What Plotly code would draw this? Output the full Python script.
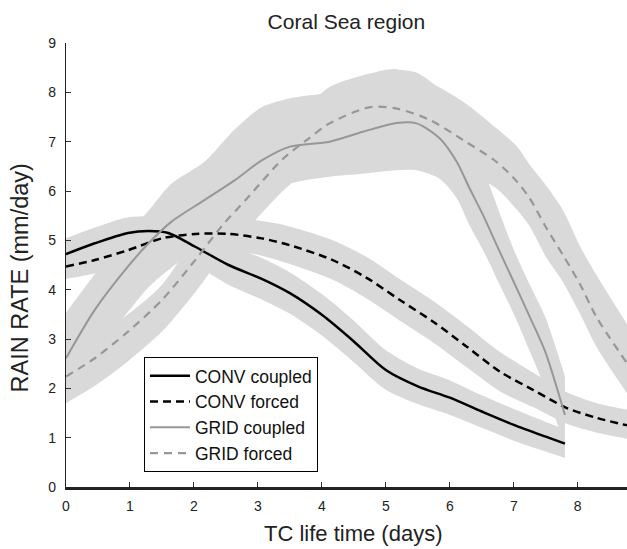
import plotly.graph_objects as go

# ---------------- data ----------------
days_ticks = [0, 1, 2, 3, 4, 5, 6, 7, 8]
rate_ticks = [0, 1, 2, 3, 4, 5, 6, 7, 8, 9]

conv_coupled_x = [0.00, 0.45, 0.97, 1.29, 1.60, 2.02, 2.54, 3.06, 3.50, 4.00, 4.50, 5.00, 5.50, 6.00, 6.50, 7.00, 7.50, 7.80]
conv_coupled_y = [4.72, 4.94, 5.15, 5.19, 5.15, 4.87, 4.50, 4.22, 3.93, 3.49, 2.95, 2.37, 2.04, 1.81, 1.53, 1.26, 1.02, 0.88]
conv_coupled_hi = [5.04, 5.26, 5.47, 5.49, 5.47, 5.23, 4.90, 4.64, 4.35, 3.91, 3.37, 2.77, 2.40, 2.16, 1.86, 1.58, 1.32, 1.17]
conv_coupled_lo = [4.40, 4.62, 4.83, 4.89, 4.83, 4.51, 4.10, 3.80, 3.51, 3.07, 2.53, 1.97, 1.68, 1.46, 1.20, 0.94, 0.72, 0.59]

conv_forced_x = [0.00, 0.45, 0.97, 1.50, 2.02, 2.54, 3.06, 3.50, 4.17, 4.70, 5.22, 5.74, 6.26, 6.78, 7.30, 7.83, 8.30, 8.77]
conv_forced_y = [4.47, 4.60, 4.80, 5.04, 5.13, 5.13, 5.04, 4.90, 4.60, 4.24, 3.79, 3.35, 2.85, 2.34, 1.97, 1.60, 1.40, 1.25]
conv_forced_hi = [4.72, 4.87, 5.10, 5.34, 5.45, 5.46, 5.39, 5.28, 5.00, 4.66, 4.21, 3.77, 3.27, 2.74, 2.32, 1.92, 1.70, 1.57]
conv_forced_lo = [4.22, 4.33, 4.50, 4.74, 4.81, 4.80, 4.69, 4.52, 4.20, 3.82, 3.37, 2.93, 2.43, 1.94, 1.62, 1.28, 1.10, 0.98]

grid_coupled_x = [0.00, 0.45, 0.97, 1.29, 1.65, 2.17, 2.64, 3.06, 3.50, 4.12, 4.64, 5.17, 5.48, 5.84, 6.11, 6.31, 6.52, 6.78, 7.02, 7.25, 7.49, 7.80]
grid_coupled_y = [2.61, 3.59, 4.47, 4.94, 5.38, 5.82, 6.22, 6.62, 6.90, 7.00, 7.20, 7.38, 7.37, 7.07, 6.59, 6.05, 5.51, 4.77, 4.10, 3.45, 2.75, 1.46]
grid_coupled_hi = [3.53, 4.31, 5.15, 5.60, 6.15, 6.60, 7.25, 7.70, 7.88, 8.00, 8.25, 8.45, 8.40, 8.05, 7.55, 7.00, 6.45, 5.55, 4.75, 4.10, 3.45, 2.24]
grid_coupled_lo = [1.71, 2.69, 3.55, 4.05, 4.45, 4.92, 5.37, 5.89, 6.15, 6.29, 6.35, 6.42, 6.42, 6.25, 5.85, 5.30, 4.80, 4.10, 3.45, 2.75, 2.00, 0.80]

grid_forced_x = [0.00, 0.45, 0.97, 1.50, 2.02, 2.43, 2.85, 3.39, 3.76, 4.12, 4.75, 5.17, 5.69, 6.21, 6.73, 7.05, 7.25, 7.51, 7.77, 8.04, 8.29, 8.77]
grid_forced_y = [2.24, 2.61, 3.15, 3.79, 4.60, 5.28, 5.88, 6.65, 7.03, 7.37, 7.70, 7.67, 7.44, 7.03, 6.59, 6.19, 5.85, 5.25, 4.70, 4.10, 3.45, 2.51]
grid_forced_hi = [2.70, 3.03, 3.50, 4.10, 5.10, 5.90, 6.60, 7.30, 7.70, 8.11, 8.38, 8.47, 8.20, 7.81, 7.27, 6.90, 6.53, 6.10, 5.61, 4.87, 4.30, 3.30]
grid_forced_lo = [1.70, 2.05, 2.55, 3.15, 3.95, 4.65, 5.25, 6.00, 6.40, 6.75, 7.05, 7.05, 6.85, 6.45, 6.05, 5.62, 5.28, 4.65, 4.15, 3.50, 2.85, 1.90]

series_names = ["CONV coupled", "CONV forced", "GRID coupled", "GRID forced"]

# ---------------- styling ----------------
BAND = "#d9d9d9"
BLACK = "#000000"
GRAY = "#979797"
FONT = "Liberation Sans, Arial, Helvetica, sans-serif"

fig = go.Figure()

bands = [
    (conv_coupled_x, conv_coupled_lo, conv_coupled_hi),
    (conv_forced_x, conv_forced_lo, conv_forced_hi),
    (grid_coupled_x, grid_coupled_lo, grid_coupled_hi),
    (grid_forced_x, grid_forced_lo, grid_forced_hi),
]
for bx, lo, hi in bands:
    fig.add_trace(go.Scatter(x=bx, y=lo, mode="lines", line=dict(width=0, shape="spline", smoothing=0.8),
                             showlegend=False, hoverinfo="skip"))
    fig.add_trace(go.Scatter(x=bx, y=hi, mode="lines", line=dict(width=0, shape="spline", smoothing=0.8),
                             fill="tonexty", fillcolor=BAND, showlegend=False, hoverinfo="skip"))

lines = [
    (conv_coupled_x, conv_coupled_y, BLACK, 2.5, "solid"),
    (conv_forced_x, conv_forced_y, BLACK, 2.5, "8px,5px"),
    (grid_coupled_x, grid_coupled_y, GRAY, 2.0, "solid"),
    (grid_forced_x, grid_forced_y, GRAY, 2.2, "8px,6px"),
]
for name, (lx, ly, col, w, dash) in zip(series_names, lines):
    fig.add_trace(go.Scatter(x=lx, y=ly, mode="lines", name=name, legendgroup=name,
                             line=dict(color=col, width=w, dash=dash, shape="spline", smoothing=0.8)))

xr = [0, 8.77]
yr = [0, 9]
fig.update_layout(
    width=627, height=549,
    margin=dict(l=66, r=0, t=43, b=62),
    paper_bgcolor="white", plot_bgcolor="white",
    font=dict(family=FONT, color="#222222", size=14),
    title=dict(text="Coral Sea region", x=0.5525, xanchor="center", y=0.96, yanchor="middle",
               font=dict(size=21, color="#222222")),
    xaxis=dict(range=xr, tickvals=days_ticks, ticks="inside", ticklen=5, tickwidth=1, tickcolor="#333",
               showline=True, linewidth=2.5, linecolor="#222", showgrid=False, zeroline=False,
               tickfont=dict(size=14), ticklabelstandoff=4),
    xaxis2=dict(range=xr, overlaying="x", side="top", tickvals=days_ticks, ticks="inside", ticklen=5,
                tickwidth=1, tickcolor="#333", showline=True, linewidth=1.3, linecolor="#333",
                showgrid=False, zeroline=False, showticklabels=False),
    yaxis=dict(range=yr, tickvals=rate_ticks, ticks="inside", ticklen=5, tickwidth=1, tickcolor="#333",
               showline=True, linewidth=1.3, linecolor="#222", showgrid=False, zeroline=False,
               tickfont=dict(size=14), ticklabelstandoff=6),
    yaxis2=dict(range=yr, overlaying="y", side="right", tickvals=rate_ticks, ticks="inside", ticklen=5,
                tickwidth=1, tickcolor="#333", showline=False, showgrid=False, zeroline=False,
                showticklabels=False),
    legend=dict(x=0.139, y=0.293, xanchor="left", yanchor="top", bgcolor="white",
                bordercolor="#000", borderwidth=1, font=dict(size=17.5, color="#111"),
                tracegroupgap=7, traceorder="normal", itemwidth=40),
    showlegend=True,
    annotations=[
        dict(text="TC life time (days)", xref="paper", yref="paper", x=0.5116, y=-0.104,
             xanchor="center", yanchor="middle", showarrow=False, font=dict(size=22, color="#222222")),
        dict(text="RAIN RATE (mm/day)", xref="paper", yref="paper", x=-0.082, y=0.472,
             xanchor="center", yanchor="middle", textangle=-90, showarrow=False,
             font=dict(size=23.5, color="#222222")),
    ],
)

fig.write_html("out.html")
